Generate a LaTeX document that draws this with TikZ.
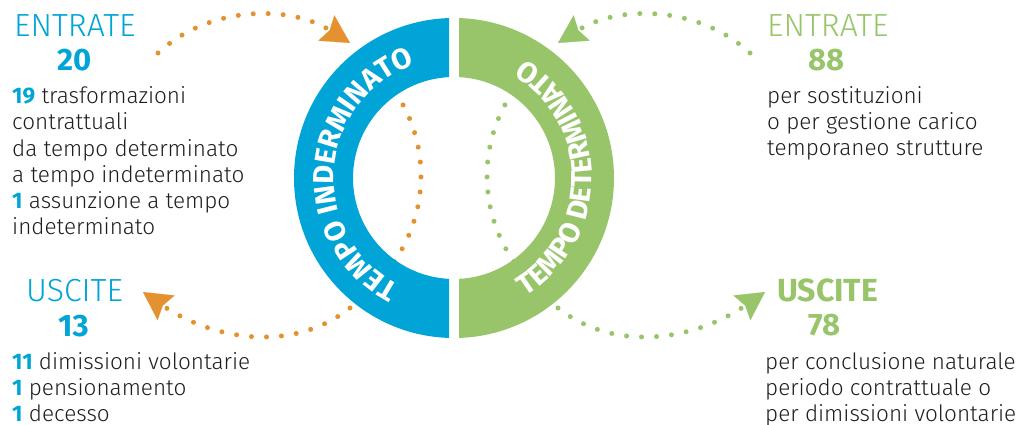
\documentclass[tikz,border=0pt]{standalone}
\usepackage{fontspec}
\setmainfont{Fira Sans}[UprightFont=* Light, BoldFont=* Bold]
\usetikzlibrary{arrows.meta,decorations.text}
\definecolor{tiblue}{RGB}{0,164,214}
\definecolor{tdgreen}{RGB}{152,197,106}
\definecolor{dotorange}{RGB}{228,146,48}
\definecolor{ink}{RGB}{30,30,30}
\newcommand\ringfont{\fontsize{29}{29}\selectfont\bfseries}

\begin{document}
\begin{tikzpicture}[x=1pt,y=1pt,
  head/.style={anchor=base west, inner sep=0pt, font=\fontsize{32}{32}\selectfont},
  count/.style={anchor=base west, inner sep=0pt, font=\fontsize{31}{31}\selectfont\bfseries},
  body/.style={anchor=base west, inner sep=0pt, text=ink, font=\fontsize{22.5}{22.5}\selectfont},
  dots/.style={line width=5pt, line cap=round, dash pattern=on 0pt off 15pt},
  tip/.style={-{Stealth[length=28pt,width=30pt,inset=4pt,line width=0.1pt]}},
  ringtext/.style={decorate, decoration={text along path, text color=white,
      text align=center, text={|\ringfont|#1}}},
]
\useasboundingbox (0,0) rectangle (1018,425);

% inner dotted seams
\draw[dots, dotorange] (271,249) ++(34:150) arc[start angle=34, end angle=-36, radius=150];
\draw[dots, tdgreen] (637,249) ++(146:150) arc[start angle=146, end angle=216, radius=150];

% the two half rings
\coordinate (c) at (454,247);
\begin{scope}
  \clip (0,0) rectangle (449,425);
  \fill[tiblue, even odd rule] (c) circle[radius=160] (c) circle[radius=101];
\end{scope}
\begin{scope}
  \clip (459,0) rectangle (1018,425);
  \fill[tdgreen, even odd rule] (c) circle[radius=160] (c) circle[radius=101];
\end{scope}

% curved labels on the rings
\path[ringtext={TEMPO INDERMINATO}] (c) ++(256:120) arc[start angle=256, end angle=96, radius=120];
\path[ringtext={TEMPO DETERMINATO}] (c) ++(-80:138) arc[start angle=-80, end angle=80, radius=138];

% left column: tempo indeterminato
\node[head, text=tiblue] (inL) at (14,388) {ENTRATE};
\node[count, text=tiblue] (inLn) at (57,354) {20};
\node[body] (inL1) at (12,321) {\textbf{\color{tiblue}19} trasformazioni};
\node[body] (inL2) at (12,295) {contrattuali};
\node[body] (inL3) at (12,268) {da tempo determinato};
\node[body] (inL4) at (12,242) {a tempo indeterminato};
\node[body] (inL5) at (12,216) {\textbf{\color{tiblue}1} assunzione a tempo};
\node[body] (inL6) at (12,190) {indeterminato};

\node[head, text=tiblue] (outL) at (26,123) {USCITE};
\node[count, text=tiblue] (outLn) at (58,88) {13};
\node[body] (outL1) at (12,55) {\textbf{\color{tiblue}11} dimissioni volontarie};
\node[body] (outL2) at (12,29) {\textbf{\color{tiblue}1} pensionamento};
\node[body] (outL3) at (12,3) {\textbf{\color{tiblue}1} decesso};

% right column: tempo determinato
\node[head, text=tdgreen] (inR) at (767,388) {ENTRATE};
\node[count, text=tdgreen] (inRn) at (808,354) {88};
\node[body] (inR1) at (767,321) {per sostituzioni};
\node[body] (inR2) at (767,295) {o per gestione carico};
\node[body] (inR3) at (767,269) {temporaneo strutture};

\node[head, text=tdgreen, font=\fontsize{32}{32}\selectfont\bfseries] (outR) at (777,123) {USCITE};
\node[count, text=tdgreen] (outRn) at (808,89) {78};
\node[body] (outR1) at (765,55) {per conclusione naturale};
\node[body] (outR2) at (765,29) {periodo contrattuale o};
\node[body] (outR3) at (765,3) {per dimissioni volontarie};

% dotted arrows
\coordinate (oa0) at (158,372);
\coordinate (oa1) at (350,382);
\coordinate (ga0) at (750,372);
\coordinate (ga1) at (558,382);
\coordinate (ob0) at (350,117);
\coordinate (ob1) at (143,133);
\coordinate (gb0) at (558,117);
\coordinate (gb1) at (765,133);
\draw[dots, dotorange, tip] (oa0) .. controls (210,420) and (290,420) .. (oa1);
\draw[dots, tdgreen, tip] (ga0) .. controls (698,420) and (618,420) .. (ga1);
\draw[dots, dotorange, tip] (ob0) .. controls (290,70) and (210,87) .. (ob1);
\draw[dots, tdgreen, tip] (gb0) .. controls (618,70) and (698,87) .. (gb1);
\end{tikzpicture}
\end{document}
